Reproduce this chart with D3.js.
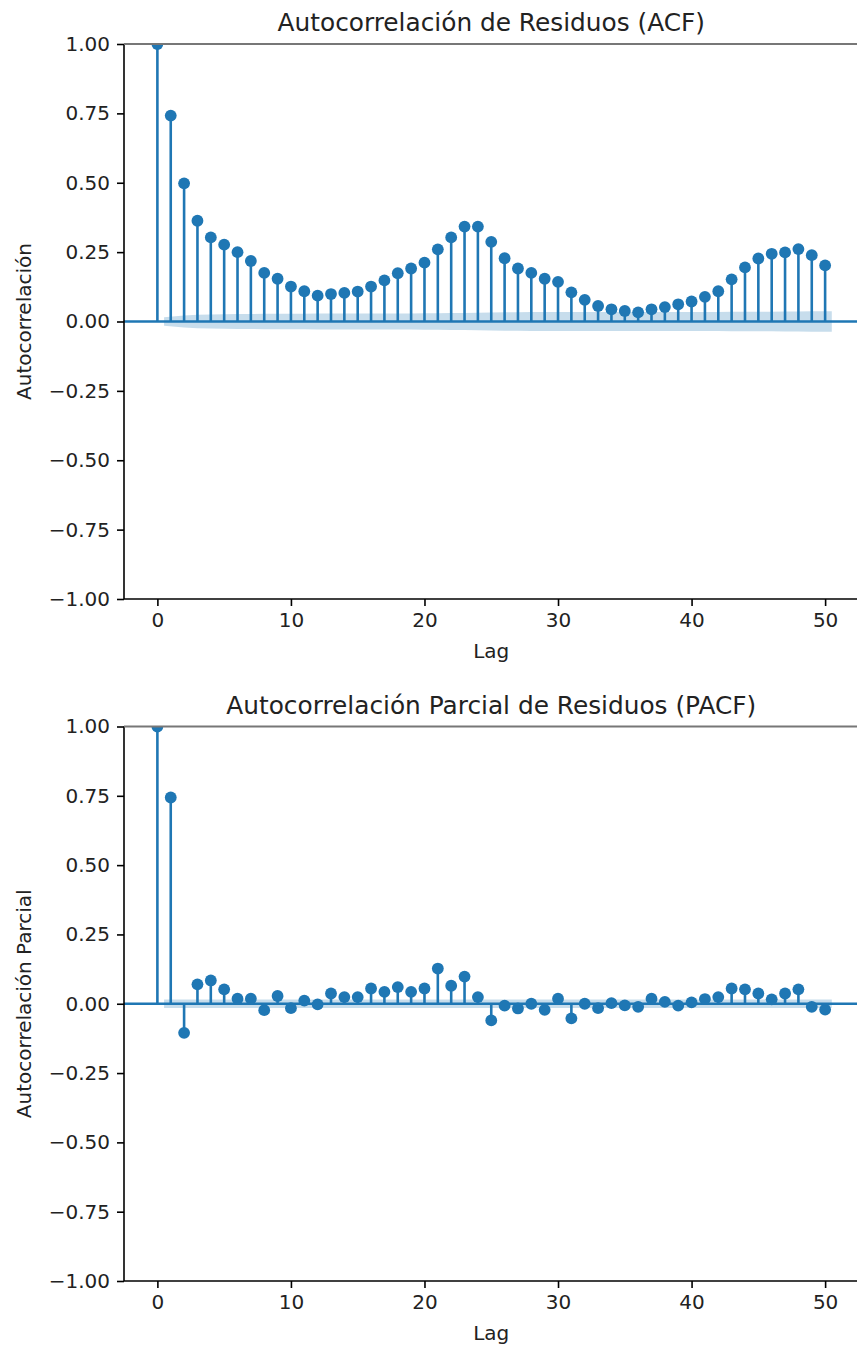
<!DOCTYPE html>
<html>
<head>
<meta charset="utf-8">
<script src="https://cdn.jsdelivr.net/npm/d3@7"></script>
<style>
  html, body { margin: 0; padding: 0; background: #fff; }
  svg { display: block; font-family: "DejaVu Sans", sans-serif; }
</style>
</head>
<body>
<svg id="chart" width="857" height="1349"></svg>
<script>
// ---- Data ----
const lags = d3.range(0, 51);
const acfValues = [1.000, 0.742, 0.498, 0.363, 0.303, 0.277, 0.250, 0.218, 0.175, 0.154,
  0.126, 0.109, 0.093, 0.099, 0.103, 0.108, 0.126, 0.148, 0.174, 0.191,
  0.212, 0.260, 0.303, 0.342, 0.342, 0.287, 0.228, 0.191, 0.175, 0.154,
  0.143, 0.105, 0.078, 0.056, 0.044, 0.038, 0.033, 0.044, 0.052, 0.062,
  0.072, 0.089, 0.109, 0.152, 0.195, 0.227, 0.244, 0.249, 0.261, 0.239, 0.202];
// confidence band half-widths for lags 1..50
const acfBand = [0.015, 0.0217, 0.0242, 0.0254, 0.0262, 0.0268, 0.0273, 0.0277, 0.0280, 0.0282,
  0.0283, 0.0284, 0.0285, 0.0285, 0.0286, 0.0287, 0.0288, 0.0290, 0.0292, 0.0295,
  0.0299, 0.0304, 0.0310, 0.0319, 0.0327, 0.0333, 0.0336, 0.0338, 0.0340, 0.0342,
  0.0343, 0.0344, 0.0344, 0.0345, 0.0345, 0.0345, 0.0345, 0.0345, 0.0345, 0.0346,
  0.0346, 0.0346, 0.0347, 0.0349, 0.0351, 0.0354, 0.0358, 0.0362, 0.0366, 0.0370];
const pacfValues = [1.000, 0.744, -0.105, 0.070, 0.084, 0.052, 0.018, 0.018, -0.023, 0.028,
  -0.016, 0.011, -0.002, 0.037, 0.024, 0.024, 0.055, 0.043, 0.060, 0.043,
  0.055, 0.127, 0.065, 0.098, 0.024, -0.060, -0.007, -0.017, 0.000, -0.022,
  0.018, -0.053, 0.000, -0.016, 0.002, -0.006, -0.011, 0.018, 0.007, -0.007,
  0.005, 0.017, 0.024, 0.055, 0.052, 0.037, 0.016, 0.037, 0.052, -0.011, -0.021];
const pacfBandHalf = 0.015;
const xTicks = [0, 10, 20, 30, 40, 50];
const yTicks = [-1.00, -0.75, -0.50, -0.25, 0.00, 0.25, 0.50, 0.75, 1.00];

const panels = [
  { title: "Autocorrelación de Residuos (ACF)", ylabel: "Autocorrelación", xlabel: "Lag",
    values: acfValues, band: acfBand, top: 44, bottom: 599 },
  { title: "Autocorrelación Parcial de Residuos (PACF)", ylabel: "Autocorrelación Parcial", xlabel: "Lag",
    values: pacfValues, band: lags.slice(1).map(() => pacfBandHalf), top: 726.5, bottom: 1281 }
];

const C0 = "#1f77b4";
const svg = d3.select("#chart");
const left = 124, right = 858.5;
const fmt = d3.format(".2f");
const minus = s => s.replace("-", "\u2212");

panels.forEach((p, i) => {
  const x = d3.scaleLinear().domain([-2.5, 52.5]).range([left, right]);
  const y = d3.scaleLinear().domain([-1, 1]).range([p.bottom, p.top]);
  const g = svg.append("g");

  const clipId = "clip" + i;
  svg.append("defs").append("clipPath").attr("id", clipId)
    .append("rect").attr("x", left).attr("y", p.top).attr("width", right - left).attr("height", p.bottom - p.top);

  const plot = g.append("g").attr("clip-path", `url(#${clipId})`);

  // stems
  plot.selectAll("line.stem").data(lags).join("line")
    .attr("x1", d => x(d)).attr("x2", d => x(d))
    .attr("y1", y(0)).attr("y2", d => y(p.values[d]))
    .attr("stroke", C0).attr("stroke-width", 2.6);

  // zero line
  plot.append("line")
    .attr("x1", left).attr("x2", right).attr("y1", y(0)).attr("y2", y(0))
    .attr("stroke", C0).attr("stroke-width", 2.6);

  // markers
  plot.selectAll("circle").data(lags).join("circle")
    .attr("cx", d => x(d)).attr("cy", d => y(p.values[d])).attr("r", 5.9)
    .attr("fill", C0);

  // confidence band (lags 1..50, ends extended by 0.5)
  const bandData = lags.slice(1).map((l, k) => ({
    lag: k === 0 ? l - 0.5 : (k === 49 ? l + 0.5 : l), h: p.band[k]
  }));
  plot.append("path").datum(bandData)
    .attr("d", d3.area().x(d => x(d.lag)).y0(d => y(-d.h)).y1(d => y(d.h)))
    .attr("fill", C0).attr("fill-opacity", 0.25);

  // axes
  const yAxis = d3.axisLeft(y).tickValues(yTicks).tickFormat(d => minus(fmt(d)))
    .tickSize(7).tickPadding(7);
  const gy = g.append("g").attr("transform", `translate(${left},0)`).call(yAxis);
  const xAxis = d3.axisBottom(x).tickValues(xTicks).tickFormat(d => d)
    .tickSize(7).tickPadding(7);
  const gx = g.append("g").attr("transform", `translate(0,${p.bottom})`).call(xAxis);
  [gx, gy].forEach(a => {
    a.select(".domain").remove();
    a.selectAll("line").attr("stroke", "#000").attr("stroke-width", 1.6);
    a.selectAll("text").attr("fill", "#222").style("font-size", "20px").style("font-family", "DejaVu Sans");
  });

  // spines
  g.append("line").attr("x1", left).attr("x2", left).attr("y1", p.top).attr("y2", p.bottom)
    .attr("stroke", "#000").attr("stroke-width", 1.6);
  g.append("line").attr("x1", left).attr("x2", right).attr("y1", p.bottom).attr("y2", p.bottom)
    .attr("stroke", "#000").attr("stroke-width", 1.6);
  g.append("line").attr("x1", left).attr("x2", right).attr("y1", p.top).attr("y2", p.top)
    .attr("stroke", "#777").attr("stroke-width", 2.2);
  g.append("line").attr("x1", right).attr("x2", right).attr("y1", p.top).attr("y2", p.bottom)
    .attr("stroke", "#000").attr("stroke-width", 1.6);

  // title
  g.append("text").attr("x", (left + right) / 2).attr("y", p.top - 13)
    .attr("text-anchor", "middle").attr("fill", "#222")
    .style("font-size", "24.8px").text(p.title);

  // x label
  g.append("text").attr("x", (left + right) / 2).attr("y", p.bottom + 59)
    .attr("text-anchor", "middle").attr("fill", "#222")
    .style("font-size", "20px").text(p.xlabel);

  // y label
  g.append("text")
    .attr("transform", `translate(31,${(p.top + p.bottom) / 2}) rotate(-90)`)
    .attr("text-anchor", "middle").attr("fill", "#222")
    .style("font-size", "20px").text(p.ylabel);
});
</script>
</body>
</html>
